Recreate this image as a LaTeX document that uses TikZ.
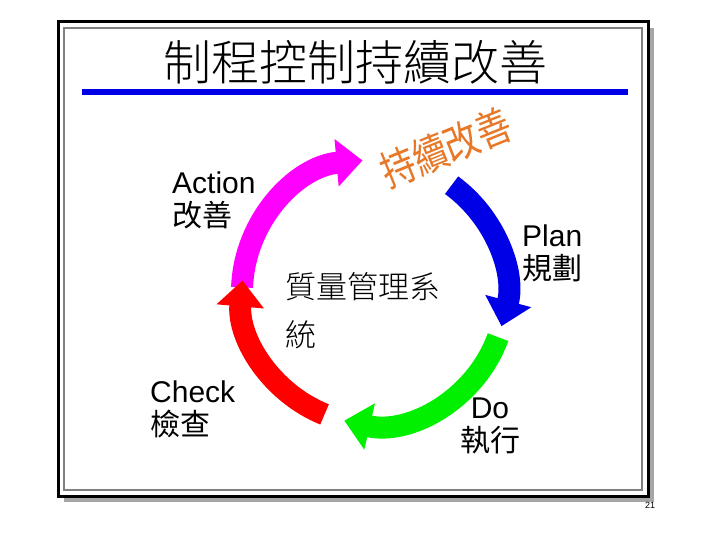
\documentclass[tikz,border=0pt]{standalone}
\usepackage{fontspec}
\setmainfont{Liberation Sans}
\newfontfamily\cjk{Noto Sans CJK TC}
\newfontfamily\cjkl{Noto Sans CJK TC Light}
\usetikzlibrary{arrows.meta}
\definecolor{mag}{RGB}{255,0,255}
\definecolor{bl}{RGB}{0,0,230}
\definecolor{gr}{RGB}{0,240,0}
\definecolor{rd}{RGB}{255,0,0}
\definecolor{org}{RGB}{230,120,40}
\tikzset{
  cyc/.style={line width=22pt,-{Triangle[width=46pt,length=26pt]}},
  lbl/.style={align=left,anchor=north west,inner sep=0pt,font=\fontsize{30}{33}\selectfont}
}
\begin{document}
\begin{tikzpicture}[x=1pt,y=1pt]
\useasboundingbox (0,0) rectangle (720,-540);
\fill[gray!70] (64,-28) rectangle (654,-502);
\fill[white] (58,-22) rectangle (648,-496);
\draw[line width=3pt] (58,-22) rectangle (648,-496);
\draw[gray,line width=1.5pt] (64,-28) rectangle (642,-490);
\node[font=\cjkl\fontsize{48}{52}\selectfont,inner sep=0pt] (title) at (355,-62) {制程控制持續改善};
\fill[bl] (82,-89) rectangle (628,-95);
\coordinate (c) at (374,-292);
\draw[cyc,mag] (c) ++(178:132) arc[start angle=178,end angle=95,radius=132];
\draw[cyc,bl] (c) ++(54:132) arc[start angle=54,end angle=-15,radius=132];
\draw[cyc,gr] (c) ++(-20:132) arc[start angle=-20,end angle=-103,radius=132];
\draw[cyc,rd] (c) ++(-112:132) arc[start angle=-112,end angle=-185,radius=132];
\node[font=\cjk\fontsize{42}{46}\selectfont,text=org,rotate=22,inner sep=0pt,xscale=0.82] (cont) at (446,-148) {持續改善};
\node[lbl] (act) at (172,-172) {Action\\{\cjk 改善}};
\node[lbl] (plan) at (522,-225) {Plan\\{\cjk 規劃}};
\node[lbl] (chk) at (150,-381) {Check\\{\cjk 檢查}};
\node[lbl,align=center,anchor=north] (do) at (490,-398) {Do\\{\cjk 執行}};
\node[lbl,font=\cjkl\fontsize{31}{48}\selectfont] (qms) at (285,-272) {質量管理系\\統};
\node[font=\rmfamily\fontsize{9}{10}\selectfont,inner sep=0pt] (pg) at (650,-505) {21};
\end{tikzpicture}
\end{document}
